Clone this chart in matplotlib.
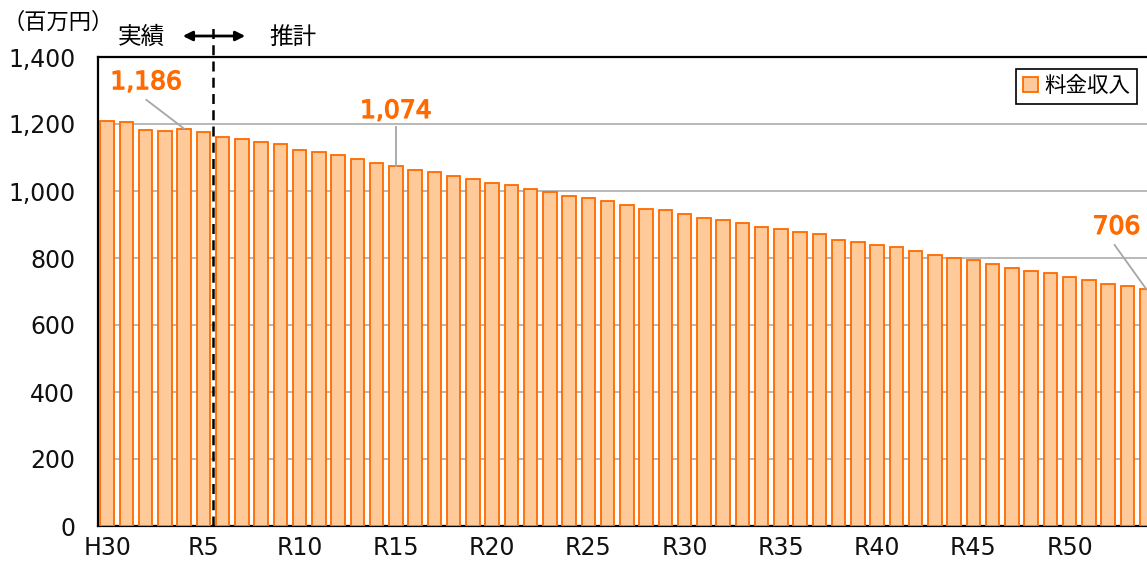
import matplotlib
matplotlib.use("Agg")
import matplotlib.pyplot as plt
import matplotlib.patheffects as pe

plt.rcParams["font.family"] = ["DejaVu Sans", "Noto Sans CJK JP"]

# Fiscal years (H30 = 2018, then Reiwa years)
years = ["H30"] + [f"R{i}" for i in range(1, 55)]

# Water charge revenue (million yen): actual up to R5, forecast afterwards
revenue = [
    1210, 1205, 1183, 1178, 1186, 1177, 1162, 1156, 1145, 1140,
    1123, 1117, 1106, 1096, 1085, 1074, 1064, 1058, 1046, 1035,
    1025, 1019, 1007, 997, 986, 980, 970, 959, 947, 942,
    932, 920, 914, 904, 893, 887, 877, 871, 854, 848,
    838, 832, 821, 810, 799, 793, 783, 771, 761, 756,
    744, 733, 722, 716, 706,
]

tick_labels = ["H30", "R5", "R10", "R15", "R20", "R25", "R30", "R35", "R40", "R45", "R50"]
yticks = [0, 200, 400, 600, 800, 1000, 1200, 1400]

# labelled bars: (bar index, text x, text y, line start x, line start y)
callouts = [
    (4, 2.03, 1325, 2.04, 1272),
    (15, 15.0, 1239, 15.0, 1190),
    (54, 52.44, 893, 52.34, 839),
]

orange = "#FF6A00"
fill = "#FFCA99"
jp = ["Noto Sans CJK JP"]

fig = plt.figure(figsize=(11.47, 5.62), dpi=100)
ax = fig.add_axes([97.5 / 1147, 36 / 562, 1050 / 1147, 469 / 562])

x = list(range(len(years)))
ax.bar(x, revenue, width=0.7, color=fill, edgecolor=orange, linewidth=1.3,
       zorder=3, label="料金収入")

ax.set_xlim(-0.5, 54.05)
ax.set_ylim(0, 1400)
ax.set_yticks(yticks)
ax.set_yticklabels([f"{v:,}" for v in yticks], fontsize=17)
ax.set_xticks([years.index(t) for t in tick_labels])
ax.set_xticklabels(tick_labels, fontsize=17)
ax.tick_params(axis="both", length=0, colors="#111111")
ax.tick_params(axis="y", pad=16)
ax.tick_params(axis="x", pad=7)

ax.yaxis.grid(True, color="#b3b3b3", linewidth=1.3, zorder=0)
ax.set_axisbelow(True)
for side in ["left", "bottom", "top"]:
    ax.spines[side].set_linewidth(1.6)
    ax.spines[side].set_color("black")
ax.spines["right"].set_visible(False)

# actual / forecast divider
ax.plot([5.5, 5.5], [0, 1.065], transform=ax.get_xaxis_transform(),
        color="black", linestyle=(0, (4, 2.5)), linewidth=1.8,
        clip_on=False, zorder=5)

for idx, tx, ty, lx, ly in callouts:
    ax.text(tx, ty, f"{revenue[idx]:,}", color=orange, fontsize=18,
            ha="center", va="center", zorder=6,
            path_effects=[pe.withStroke(linewidth=0.9, foreground=orange)])
    ax.plot([lx, idx], [ly, revenue[idx]], color="#a6a6a6", linewidth=1.3,
            zorder=6, clip_on=False)

fig.text(3 / 1147, 1 - 22 / 562, "（百万円）", fontsize=16, family=jp,
         va="center", ha="left")
fig.text(141 / 1147, 1 - 37 / 562, "実績", fontsize=17, family=jp,
         va="center", ha="center")
fig.text(293 / 1147, 1 - 37 / 562, "推計", fontsize=17, family=jp,
         va="center", ha="center")
fig.add_artist(matplotlib.patches.FancyArrowPatch(
    (180 / 1147, 1 - 36 / 562), (248 / 1147, 1 - 36 / 562),
    transform=fig.transFigure, arrowstyle="<|-|>", mutation_scale=14,
    color="black", linewidth=2))

leg = ax.legend(loc="upper right", handlelength=0.7,
                handleheight=0.7, handletextpad=0.3, borderpad=0.3,
                fancybox=False, framealpha=1, edgecolor="black",
                prop={"family": jp, "size": 15.5},
                bbox_to_anchor=(1.0, 0.998))
leg.get_frame().set_linewidth(1.2)

fig.savefig("out.png", dpi=100)
